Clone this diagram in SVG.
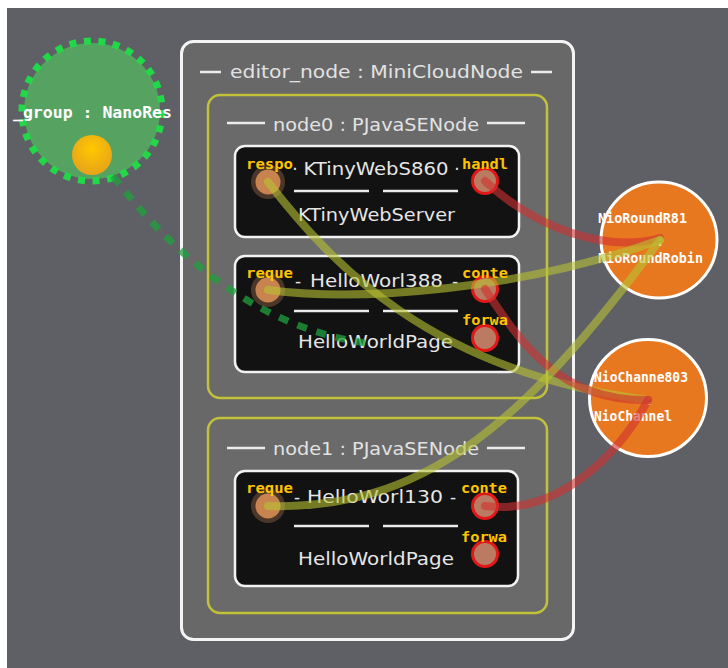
<svg xmlns="http://www.w3.org/2000/svg" width="728" height="668" viewBox="0 0 728 668">
<defs>
<style>
.ttl{font-family:"DejaVu Sans","Liberation Sans",sans-serif;font-size:17px;fill:#e2e2e2}
.cmp{font-family:"DejaVu Sans","Liberation Sans",sans-serif;font-size:17px;fill:#e6e6e6}
.port{font-family:"DejaVu Sans Mono","Liberation Mono",monospace;font-weight:bold;font-size:14px;fill:#ffc400}
.mono{font-family:"DejaVu Sans Mono","Liberation Mono",monospace;font-weight:bold;font-size:13.5px;fill:#ffffff}
.rule{stroke:#ececec;stroke-width:2.5}
.cbox{fill:#121212;stroke:#f2f2f2;stroke-width:2.5}
.nbox{fill:#6c6c6c;fill-opacity:0.55;stroke:#c2c23a;stroke-width:2.5}
.src{fill:#c8844e}
.glow{fill:#d09060;fill-opacity:0.3}
.tgt{fill:#bb7a62;stroke:#e01818;stroke-width:3}
.red{fill:none;stroke:#d03030;stroke-opacity:0.6;stroke-width:8;stroke-linecap:round}
.yel{fill:none;stroke:#b8c232;stroke-opacity:0.6;stroke-width:8;stroke-linecap:round}
.orb{fill:#e8781f;stroke:#ffffff;stroke-width:3}
</style>
<radialGradient id="yg" cx="0.5" cy="0.35" r="0.6">
<stop offset="0" stop-color="#ffc800"/>
<stop offset="1" stop-color="#e8a518"/>
</radialGradient>
</defs>
<rect x="0" y="0" width="728" height="668" fill="#ffffff"/>
<rect x="7" y="8" width="721" height="660" fill="#5f6066"/>

<g id="editor_node">
<rect x="181.5" y="41.5" width="392" height="598" rx="12" fill="#6a6a6a" fill-opacity="0.85" stroke="#f4f4f4" stroke-width="3"/>
<line class="rule" x1="200" y1="72" x2="221" y2="72"/>
<line class="rule" x1="531" y1="72" x2="552" y2="72"/>
<text class="ttl" x="376.5" y="78" text-anchor="middle" textLength="293" lengthAdjust="spacingAndGlyphs">editor_node : MiniCloudNode</text>
</g>

<g id="node0">
<rect class="nbox" x="208" y="95" width="339" height="303" rx="12"/>
<line class="rule" x1="227" y1="123" x2="265" y2="123"/>
<line class="rule" x1="487" y1="123" x2="525" y2="123"/>
<text class="ttl" x="376" y="131" text-anchor="middle" textLength="206" lengthAdjust="spacingAndGlyphs">node0 : PJavaSENode</text>
</g>

<g id="node1">
<rect class="nbox" x="208" y="418" width="339" height="195" rx="12"/>
<line class="rule" x1="227" y1="448" x2="265" y2="448"/>
<line class="rule" x1="487" y1="448" x2="525" y2="448"/>
<text class="ttl" x="376" y="455" text-anchor="middle" textLength="206" lengthAdjust="spacingAndGlyphs">node1 : PJavaSENode</text>
</g>

<g id="KTinyWebS860">
<rect class="cbox" x="235" y="146" width="284" height="91" rx="10"/>
<text class="cmp" x="295" y="175" text-anchor="middle">·</text>
<text class="cmp" x="376" y="175" text-anchor="middle" textLength="145" lengthAdjust="spacingAndGlyphs">KTinyWebS860</text>
<text class="cmp" x="457" y="175" text-anchor="middle">·</text>
<line class="rule" x1="294" y1="191" x2="369" y2="191"/>
<line class="rule" x1="383" y1="191" x2="458" y2="191"/>
<text class="cmp" x="376.5" y="221" text-anchor="middle" textLength="157" lengthAdjust="spacingAndGlyphs">KTinyWebServer</text>
<circle class="glow" cx="268" cy="182" r="17"/>
<circle class="src" cx="268" cy="182" r="12.5"/>
<circle class="tgt" cx="485" cy="181" r="12.5"/>
</g>

<g id="HelloWorl388">
<rect class="cbox" x="235" y="256" width="284" height="116" rx="10"/>
<text class="cmp" x="298" y="287" text-anchor="middle">-</text>
<text class="cmp" x="376.5" y="287" text-anchor="middle" textLength="133" lengthAdjust="spacingAndGlyphs">HelloWorl388</text>
<text class="cmp" x="455" y="287" text-anchor="middle">-</text>
<line class="rule" x1="294" y1="311" x2="369" y2="311"/>
<line class="rule" x1="383" y1="311" x2="458" y2="311"/>
<text class="cmp" x="375.5" y="348" text-anchor="middle" textLength="155" lengthAdjust="spacingAndGlyphs">HelloWorldPage</text>
<circle class="glow" cx="268" cy="290" r="17"/>
<circle class="src" cx="268" cy="290" r="12.5"/>
<circle class="tgt" cx="485" cy="289" r="12.5"/>
<circle class="tgt" cx="485" cy="338" r="12.5"/>
</g>

<g id="HelloWorl130">
<rect class="cbox" x="235" y="471" width="283" height="115" rx="10"/>
<text class="cmp" x="297" y="503" text-anchor="middle">-</text>
<text class="cmp" x="375" y="503" text-anchor="middle" textLength="136" lengthAdjust="spacingAndGlyphs">HelloWorl130</text>
<text class="cmp" x="453" y="503" text-anchor="middle">-</text>
<line class="rule" x1="294" y1="526" x2="369" y2="526"/>
<line class="rule" x1="383" y1="526" x2="458" y2="526"/>
<text class="cmp" x="376" y="565" text-anchor="middle" textLength="156" lengthAdjust="spacingAndGlyphs">HelloWorldPage</text>
<circle class="glow" cx="268" cy="506" r="17"/>
<circle class="src" cx="268" cy="506" r="12.5"/>
<circle class="tgt" cx="485" cy="506" r="12.5"/>
<circle class="tgt" cx="485" cy="554" r="12.5"/>
</g>

<g id="NioRoundR81">
<circle class="orb" cx="659" cy="240" r="58"/>
<text class="mono" x="598" y="223" textLength="89" lengthAdjust="spacingAndGlyphs">NioRoundR81</text>
<text class="mono" x="660" y="246" text-anchor="middle">:</text>
<text class="mono" x="598" y="263" textLength="105" lengthAdjust="spacingAndGlyphs">NioRoundRobin</text>
</g>

<g id="NioChanne803">
<circle class="orb" cx="648" cy="398" r="58.5"/>
<text class="mono" x="594" y="382" textLength="94" lengthAdjust="spacingAndGlyphs">NioChanne803</text>
<text class="mono" x="649" y="405" text-anchor="middle">:</text>
<text class="mono" x="594" y="421" textLength="78" lengthAdjust="spacingAndGlyphs">NioChannel</text>
</g>

<g id="group">
<circle cx="92" cy="111" r="68" fill="#55ab60" fill-opacity="0.9"/>
<circle cx="92" cy="111" r="70" fill="none" stroke="#22d848" stroke-width="7" stroke-dasharray="7 7.6"/>
<text class="mono" x="13" y="118" style="font-size:15.5px" textLength="159" lengthAdjust="spacingAndGlyphs">_group :  NanoRes</text>
<circle cx="92" cy="155" r="20" fill="url(#yg)"/>
</g>

<g id="connectors">
<path class="red" d="M 485 181 C 540 232, 610 252, 660 238"/>
<path class="yel" d="M 268 290 C 360 302, 520 290, 660 240"/>
<path class="yel" d="M 268 182 C 330 262, 430 372, 648 400"/>
<path class="red" d="M 485 289 C 520 342, 560 402, 648 400"/>
<path class="yel" d="M 268 506 C 420 510, 520 430, 660 240"/>
<path class="red" d="M 485 506 C 560 516, 620 452, 648 400"/>
<path d="M 113 176 Q 225 322 365 343" fill="none" stroke="#1fa23c" stroke-opacity="0.75" stroke-width="7" stroke-dasharray="10 10"/>
</g>

<g id="port-labels">
<text class="port" x="246" y="169" textLength="47" lengthAdjust="spacingAndGlyphs">respo</text>
<text class="port" x="462" y="169" textLength="46" lengthAdjust="spacingAndGlyphs">handl</text>
<text class="port" x="246" y="278" textLength="47" lengthAdjust="spacingAndGlyphs">reque</text>
<text class="port" x="462" y="278" textLength="46" lengthAdjust="spacingAndGlyphs">conte</text>
<text class="port" x="462" y="325" textLength="46" lengthAdjust="spacingAndGlyphs">forwa</text>
<text class="port" x="246" y="493" textLength="47" lengthAdjust="spacingAndGlyphs">reque</text>
<text class="port" x="461" y="493" textLength="46" lengthAdjust="spacingAndGlyphs">conte</text>
<text class="port" x="461" y="542" textLength="46" lengthAdjust="spacingAndGlyphs">forwa</text>
</g>
</svg>
